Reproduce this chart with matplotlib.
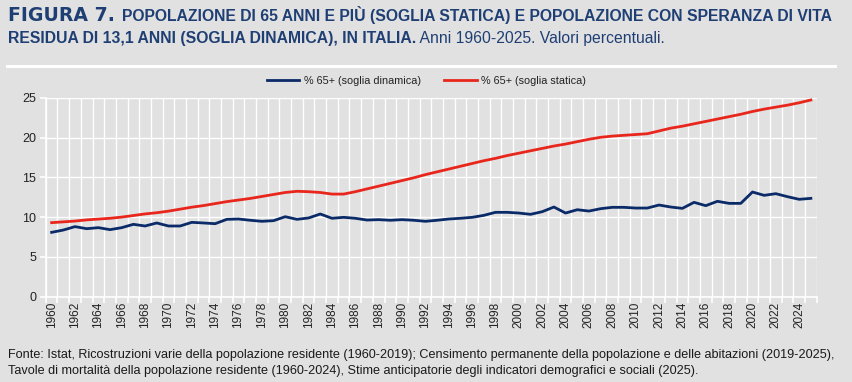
import matplotlib
matplotlib.use("Agg")
import matplotlib.pyplot as plt
import numpy as np

years = list(range(1960, 2026))
statica = [9.3, 9.4, 9.5, 9.65, 9.75, 9.85, 10.0, 10.2, 10.4, 10.55,
           10.75, 11.0, 11.25, 11.45, 11.7, 11.95, 12.15, 12.35, 12.6, 12.85,
           13.1, 13.25, 13.2, 13.1, 12.9, 12.9, 13.2, 13.55, 13.9, 14.25,
           14.6, 14.95, 15.35, 15.7, 16.05, 16.4, 16.75, 17.1, 17.4, 17.75,
           18.05, 18.35, 18.65, 18.95, 19.2, 19.5, 19.8, 20.05, 20.2, 20.3,
           20.4, 20.5, 20.85, 21.2, 21.45, 21.75, 22.05, 22.35, 22.65, 22.95,
           23.3, 23.6, 23.85, 24.1, 24.4, 24.75]
dinamica = [8.08, 8.37, 8.8, 8.54, 8.67, 8.42, 8.67, 9.09, 8.88, 9.26,
            8.88, 8.88, 9.34, 9.26, 9.17, 9.72, 9.76, 9.6, 9.47, 9.55,
            10.05, 9.72, 9.89, 10.39, 9.85, 9.97, 9.85, 9.63, 9.68, 9.6,
            9.68, 9.6, 9.47, 9.6, 9.76, 9.85, 9.97, 10.22, 10.6, 10.6,
            10.51, 10.35, 10.68, 11.27, 10.51, 10.93, 10.76, 11.06, 11.23, 11.23,
            11.14, 11.14, 11.52, 11.27, 11.1, 11.86, 11.44, 11.99, 11.73, 11.73,
            13.16, 12.74, 12.95, 12.57, 12.24, 12.36]
yticks = [0, 5, 10, 15, 20, 25]
xtick_labels = [str(y) for y in years if y % 2 == 0]

label_din = "% 65+ (soglia dinamica)"
label_sta = "% 65+ (soglia statica)"
title_a = "FIGURA 7."
title_b = "POPOLAZIONE DI 65 ANNI E PIÙ (SOGLIA STATICA) E POPOLAZIONE CON SPERANZA DI VITA"
title_c = "RESIDUA DI 13,1 ANNI (SOGLIA DINAMICA), IN ITALIA."
title_d = " Anni 1960-2025. Valori percentuali."
foot1 = "Fonte: Istat, Ricostruzioni varie della popolazione residente (1960-2019); Censimento permanente della popolazione e delle abitazioni (2019-2025),"
foot2 = "Tavole di mortalità della popolazione residente (1960-2024), Stime anticipatorie degli indicatori demografici e sociali (2025)."

BG = "#e1e1e1"
NAVY = "#1f3f74"
RED = "#e8261c"
BLUE = "#0b2a68"

plt.rcParams["font.family"] = ["Liberation Sans", "DejaVu Sans"]

fig = plt.figure(figsize=(8.53, 3.82), dpi=100, facecolor=BG)
ax = fig.add_axes([45.8 / 853, 1 - 296.5 / 382, (816.7 - 45.8) / 853, (296.5 - 98) / 382])
ax.set_facecolor(BG)

ax.plot(years, dinamica, color=BLUE, lw=2.0, label=label_din, solid_joinstyle="round")
ax.plot(years, statica, color=RED, lw=2.0, label=label_sta, solid_joinstyle="round")

ax.set_xlim(1959.5, 2025.5)
ax.set_ylim(0, 25)
ax.set_yticks(yticks)
ax.set_yticklabels([str(t) for t in yticks], fontsize=9, color="#222222")
ax.set_xticks(np.arange(1959.5, 2026, 1), minor=False)
ax.set_xticklabels([])
ax.set_xticks([y for y in years if y % 2 == 0], minor=True)
ax.set_xticklabels(xtick_labels, minor=True, rotation=90, fontsize=8.5, color="#222222")
ax.tick_params(axis="x", which="major", length=4, color="white", width=1.2, direction="out")
ax.tick_params(axis="x", which="minor", length=0, pad=4)
ax.tick_params(axis="y", length=4, color="white", width=1.2, pad=3)
ax.grid(True, axis="x", which="major", color="white", lw=1.0)
ax.grid(True, axis="y", color="white", lw=1.0)
for s in ["top", "right"]:
    ax.spines[s].set_visible(False)
for s in ["left", "bottom"]:
    ax.spines[s].set_color("white")
    ax.spines[s].set_linewidth(1.2)
ax.set_axisbelow(True)

leg = fig.legend(loc="center", bbox_to_anchor=(0.5, 1 - 81 / 382), ncol=2, frameon=False,
                 fontsize=7.8, handlelength=3.0, columnspacing=2.2, handletextpad=0.4)
for t in leg.get_texts():
    t.set_color("#222222")

# separator line
fig.add_artist(plt.Line2D([7 / 853, 835 / 853], [1 - 66 / 382, 1 - 66 / 382], color="white", lw=2.2))

fig.canvas.draw()
r = fig.canvas.get_renderer()

def put(x_px, y_px, txt, color=NAVY, va="baseline", **kw):
    t = fig.text(x_px / 853, 1 - y_px / 382, txt, va=va, ha="left", color=color, **kw)
    bb = t.get_window_extent(renderer=r)
    return t, bb.width

# "FIGURA 7." heavy, fitted to reference width (8 -> 114 px)
ta, wa = put(8, 21, title_a, fontsize=13, fontweight="bold", family=["DejaVu Sans"])
ta.set_fontsize(13 * (106 / wa))
# rest of line 1 fitted from 122 to 835
tb, wb = put(122, 21, title_b, fontsize=12, fontweight="bold")
fs = 12 * ((835 - 122) / wb)
tb.set_fontsize(fs)
tc, wc = put(8, 43.5, title_c, fontsize=fs, fontweight="bold")
put(8 + wc, 43.5, title_d, fontsize=fs)

# footer fitted
tf1, wf = put(8, 355, foot1, color="#1a1a1a", va="center", fontsize=9.3)
fscale = min(1.0, (833 - 8) / wf)
tf1.set_fontsize(9.3 * fscale)
put(8, 371, foot2, color="#1a1a1a", va="center", fontsize=9.3 * fscale)

fig.savefig("out.png", dpi=100, facecolor=BG)
